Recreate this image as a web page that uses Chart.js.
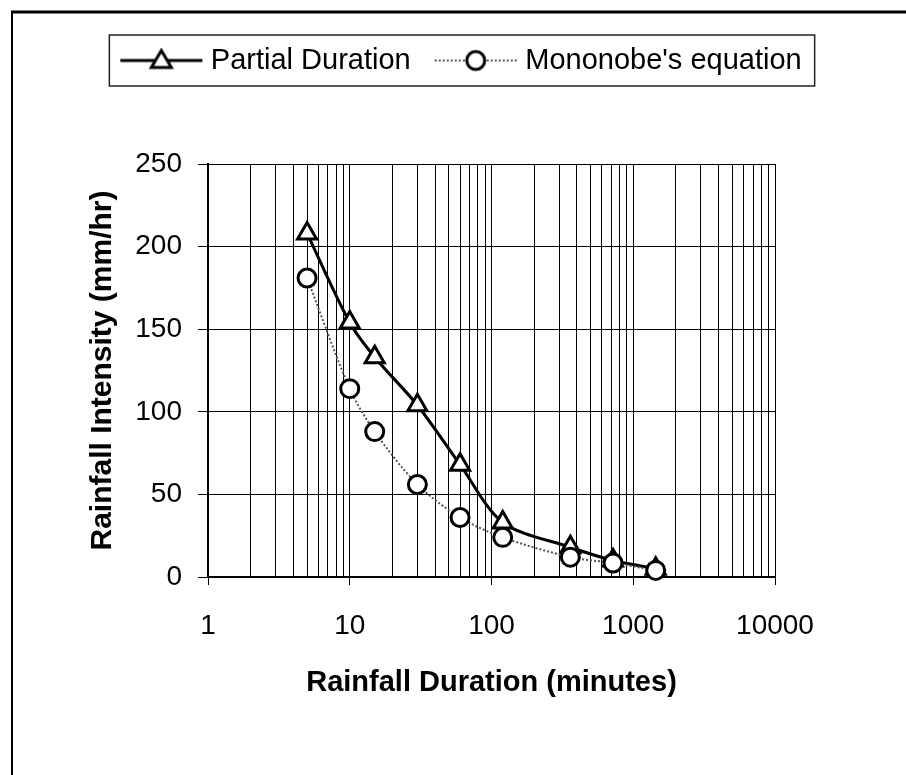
<!DOCTYPE html>
<html>
<head>
<meta charset="utf-8">
<script src="https://cdn.jsdelivr.net/npm/chart.js@4/dist/chart.umd.min.js"></script>
<style>
  html, body { margin: 0; padding: 0; background: #fff; }
</style>
</head>
<body>
<canvas id="idfChart" width="906" height="775"></canvas>
<script>
// Rainfall duration (minutes) and intensities (mm/hr)
const durations       = [5, 10, 15, 30, 60, 120, 360, 720, 1440];
const partialDuration = [208, 154, 133, 104, 68, 33, 18, 10, 5];
const mononobe        = [181, 114, 88, 56, 36, 24, 12, 8.5, 4];
const xDecades        = [1, 10, 100, 1000, 10000];   // labelled x ticks
const yTicks          = [0, 50, 100, 150, 200, 250];

const FONT = "'Liberation Sans', Arial, sans-serif";

// legend symbol: a short line with the marker in the middle
function legendIcon(kind) {
  const c = document.createElement('canvas');
  c.width = 86; c.height = 26;
  const g = c.getContext('2d');
  const cx = 43, cy = 13;
  g.beginPath();
  if (kind === 'triangle') {
    g.strokeStyle = '#000'; g.lineWidth = 3;
  } else {
    g.strokeStyle = '#555'; g.lineWidth = 2; g.setLineDash([2, 2]);
  }
  g.moveTo(2, cy); g.lineTo(84, cy); g.stroke();
  g.setLineDash([]);
  g.fillStyle = '#fff'; g.strokeStyle = '#000'; g.lineWidth = 3;
  g.beginPath();
  if (kind === 'triangle') {
    g.moveTo(cx, cy - 10); g.lineTo(cx + 10, cy + 7); g.lineTo(cx - 10, cy + 7); g.closePath();
  } else {
    g.arc(cx, cy, 9, 0, Math.PI * 2);
  }
  g.fill(); g.stroke();
  return c;
}
const icons = [legendIcon('triangle'), legendIcon('circle')];

// white page, outer frame and box around the legend
const framePlugin = {
  id: 'frame',
  beforeDraw(chart) {
    const ctx = chart.ctx;
    ctx.save();
    ctx.fillStyle = '#fff';
    ctx.fillRect(0, 0, chart.width, chart.height);
    ctx.strokeStyle = '#000';
    ctx.lineWidth = 3;
    ctx.beginPath(); ctx.moveTo(11, 12); ctx.lineTo(chart.width, 12); ctx.stroke();
    ctx.lineWidth = 2;
    ctx.beginPath(); ctx.moveTo(12, 11); ctx.lineTo(12, chart.height); ctx.stroke();
    ctx.restore();
  },
  afterDraw(chart) {
    const boxes = chart.legend.legendHitBoxes;
    if (!boxes || !boxes.length) return;
    const left = Math.min(...boxes.map(b => b.left)) - 17;
    const right = Math.max(...boxes.map(b => b.left + b.width)) + 13;
    const mid = boxes[0].top + boxes[0].height / 2;
    const ctx = chart.ctx;
    ctx.save();
    ctx.strokeStyle = '#222';
    ctx.lineWidth = 1.5;
    ctx.strokeRect(left, mid - 25.5, right - left, 51);
    ctx.restore();
  }
};

new Chart(document.getElementById('idfChart'), {
  type: 'line',
  data: {
    datasets: [
      {
        label: 'Partial Duration',
        data: durations.map((d, i) => ({ x: d, y: partialDuration[i] })),
        borderColor: '#000',
        borderWidth: 3,
        tension: 0.3,
        pointStyle: 'triangle',
        pointRadius: 11,
        pointBorderWidth: 3,
        pointBackgroundColor: '#fff',
        pointBorderColor: '#000',
        clip: false,
        order: 2
      },
      {
        label: "Mononobe's equation",
        data: durations.map((d, i) => ({ x: d, y: mononobe[i] })),
        borderColor: '#555',
        borderWidth: 2,
        borderDash: [2, 2],
        tension: 0.3,
        pointStyle: 'circle',
        pointRadius: 9,
        pointBorderWidth: 3,
        pointBackgroundColor: '#fff',
        pointBorderColor: '#000',
        clip: false,
        order: 1
      }
    ]
  },
  options: {
    responsive: false,
    animation: false,
    layout: { padding: { left: 22, right: 0, top: 16, bottom: 0 } },
    plugins: {
      tooltip: { enabled: false },
      legend: {
        position: 'top',
        labels: {
          usePointStyle: true,
          pointStyleWidth: 70,
          padding: 30,
          color: '#000',
          font: { family: FONT, size: 29 },
          generateLabels(chart) {
            const items = Chart.defaults.plugins.legend.labels.generateLabels(chart);
            items.forEach(it => { it.pointStyle = icons[it.datasetIndex]; });
            return items.sort((a, b) => a.datasetIndex - b.datasetIndex);
          }
        }
      }
    },
    scales: {
      x: {
        type: 'logarithmic',
        position: 'bottom',
        min: 1,
        max: 10000,
        afterBuildTicks(scale) {
          // gridlines at 1..9 of every decade
          const t = [];
          xDecades.slice(0, -1).forEach(d => { for (let m = 1; m < 10; m++) t.push({ value: m * d }); });
          t.push({ value: xDecades[xDecades.length - 1] });
          scale.ticks = t;
        },
        ticks: {
          autoSkip: false,
          maxRotation: 0,
          padding: 24,
          color: '#000',
          font: { family: FONT, size: 28 },
          callback: v => (xDecades.includes(v) ? String(v) : '')
        },
        grid: {
          color: '#000',
          lineWidth: 1,
          tickLength: 8,
          tickColor: ctx => (ctx.tick && xDecades.includes(ctx.tick.value) ? '#000' : 'rgba(0,0,0,0)')
        },
        border: { color: '#000', width: 2 },
        title: {
          display: true,
          text: 'Rainfall Duration (minutes)',
          color: '#000',
          font: { family: FONT, size: 29, weight: 'bold' },
          padding: { top: 0, bottom: 75 }
        },
        afterFit(scale) { scale.height = 198; }
      },
      xTop: {
        type: 'linear',
        axis: 'x',
        position: 'top',
        grid: { display: false },
        ticks: { display: false },
        border: { display: false },
        afterFit(scale) { scale.height = 79; }
      },
      y: {
        min: 0,
        max: 250,
        afterBuildTicks(scale) { scale.ticks = yTicks.map(v => ({ value: v })); },
        ticks: {
          padding: 16,
          color: '#000',
          font: { family: FONT, size: 28 }
        },
        grid: { color: '#000', lineWidth: 1, tickLength: 10, tickColor: '#000' },
        border: { color: '#000', width: 2 },
        title: {
          display: true,
          text: 'Rainfall Intensity (mm/hr)',
          color: '#000',
          font: { family: FONT, size: 30, weight: 'bold' },
          padding: { top: 63, bottom: 0 }
        },
        afterFit(scale) { scale.width = 186; }
      },
      yRight: {
        type: 'linear',
        axis: 'y',
        position: 'right',
        grid: { display: false },
        ticks: { display: false },
        border: { display: false },
        afterFit(scale) { scale.width = 131; }
      }
    }
  },
  plugins: [framePlugin]
});
</script>
</body>
</html>
